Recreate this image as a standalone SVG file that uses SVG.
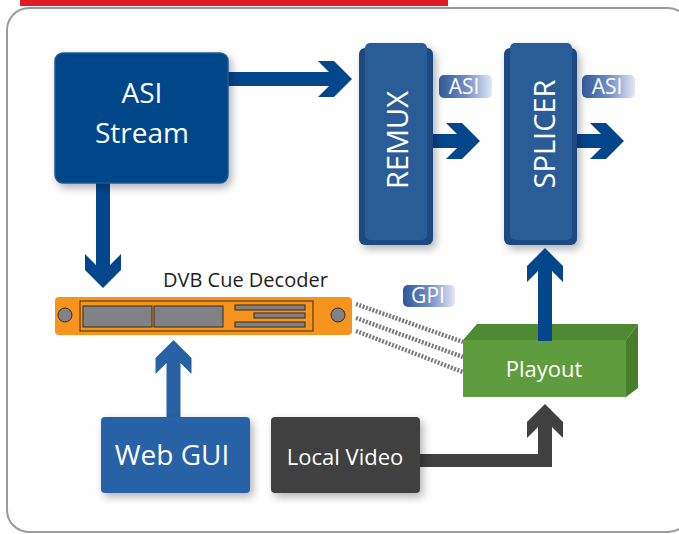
<svg xmlns="http://www.w3.org/2000/svg" width="679" height="534" viewBox="0 0 679 534">
<defs>
<style>
text{font-family:"Open Sans","Noto Sans","DejaVu Sans",sans-serif;fill:#fff}
.lbl{fill:#231f20}
.blue{fill:#03468c}
.tag{fill:url(#tagGrad)}
.gray{fill:#808285;stroke:#3a2a18;stroke-width:1}
.gpi{fill:none;stroke:#7b7b7d;stroke-width:4.5;stroke-dasharray:2 1.5}
</style>
<linearGradient id="tagGrad" x1="0" y1="0" x2="1" y2="0">
<stop offset="0" stop-color="#2f5898"/>
<stop offset="0.5" stop-color="#6f8cc2"/>
<stop offset="1" stop-color="#e2e8f3"/>
</linearGradient>
<filter id="sh" x="-20%" y="-20%" width="150%" height="150%">
<feDropShadow dx="3" dy="4" stdDeviation="4" flood-color="#000" flood-opacity="0.3"/>
</filter>
</defs>
<rect x="0" y="0" width="679" height="534" fill="#fff"/>
<rect x="20" y="0" width="428" height="6" fill="#e01b24"/>
<rect x="7" y="8" width="683" height="524" rx="22" fill="#fff" stroke="#9a9a9c" stroke-width="2"/>

<g id="connectors">
<path class="blue" d="M226,72 H329 L318,61 H334 L352,79 L334,97 H318 L329,86 H226 Z"/>
<path class="blue" d="M425,134 H457 L446,123 H462 L480,141 L462,159 H446 L457,148 H425 Z"/>
<path class="blue" d="M570,134 H601 L590,123 H606 L624,141 L606,159 H590 L601,148 H570 Z"/>
<path class="blue" d="M96,181 V265 L85,254 V270 L103,288 L121,270 V254 L110,265 V181 Z"/>
<path fill="#2862a5" d="M166.5,419 V363 L155.5,374 V358 L173.5,340 L191.5,358 V374 L180.5,363 V419 Z"/>
<path fill="#404040" d="M418,454 H538 V427 L527,438 V422 L545,404 L563,422 V438 L552,427 V467 H418 Z"/>
<line class="gpi" x1="356" y1="304" x2="463" y2="342"/>
<line class="gpi" x1="356" y1="318" x2="463" y2="357"/>
<line class="gpi" x1="356" y1="331" x2="463" y2="372"/>
</g>

<g id="asi-stream">
<rect x="55" y="53" width="173" height="130" rx="8" fill="#02468a" stroke="#1b5899" stroke-width="1.5" filter="url(#sh)"/>
<text x="142" y="103" font-size="28" text-anchor="middle">ASI</text>
<text x="142" y="143" font-size="28" text-anchor="middle">Stream</text>
</g>

<g id="remux">
<g filter="url(#sh)">
<rect x="359" y="48" width="74" height="197" rx="6" fill="#1d4a80"/>
<rect x="365" y="43" width="62" height="197" rx="5" fill="#2a5c98"/>
</g>
<text transform="translate(408,140) rotate(-90)" font-size="29" text-anchor="middle">REMUX</text>
</g>

<g id="splicer">
<g filter="url(#sh)">
<rect x="504" y="48" width="73" height="197" rx="6" fill="#1d4a80"/>
<rect x="510" y="43" width="62" height="197" rx="5" fill="#2a5c98"/>
</g>
<text transform="translate(555,134) rotate(-90)" font-size="29" text-anchor="middle">SPLICER</text>
</g>

<g id="asi-tag-1">
<rect class="tag" x="439" y="75" width="53" height="23" rx="5"/>
<text x="464" y="94" font-size="21" text-anchor="middle">ASI</text>
</g>
<g id="asi-tag-2">
<rect class="tag" x="582" y="75" width="53" height="23" rx="5"/>
<text x="607" y="94" font-size="21" text-anchor="middle">ASI</text>
</g>

<g id="dvb-cue-decoder">
<text class="lbl" x="163" y="287" font-size="20">DVB Cue Decoder</text>
<rect x="55" y="297" width="297" height="38" rx="4" fill="#f7941d"/>
<rect x="80" y="301" width="233" height="30" fill="none" stroke="#3a2a18" stroke-width="1"/>
<rect class="gray" x="83" y="306" width="69" height="21"/>
<rect class="gray" x="154" y="306" width="69" height="21"/>
<rect class="gray" x="235" y="305" width="70" height="5"/>
<rect class="gray" x="254" y="313" width="51" height="5"/>
<rect class="gray" x="235" y="322" width="70" height="5"/>
<circle class="gray" cx="65" cy="315" r="7"/>
<circle class="gray" cx="338" cy="315" r="7"/>
</g>

<g id="gpi-tag">
<rect class="tag" x="403" y="285" width="52" height="22" rx="5"/>
<text x="428" y="303" font-size="21" text-anchor="middle">GPI</text>
</g>

<g id="playout">
<polygon points="463,340 477,324 638,324 626,340" fill="#4e8a31"/>
<polygon points="626,340 638,324 638,388 626,397" fill="#487d2c"/>
<rect x="463" y="340" width="163" height="57" fill="#5f9c3d"/>
<text x="544" y="377" font-size="22" text-anchor="middle">Playout</text>
</g>
<path class="blue" d="M538,341 V271 L527,282 V266 L545,248 L563,266 V282 L552,271 V341 Z"/>

<g id="web-gui">
<rect x="101" y="417" width="149" height="76" rx="4" fill="#2862a5" filter="url(#sh)"/>
<text x="172" y="465" font-size="28" text-anchor="middle">Web GUI</text>
</g>

<g id="local-video">
<rect x="271" y="417" width="149" height="76" rx="4" fill="#404040" filter="url(#sh)"/>
<text x="345" y="465" font-size="22" text-anchor="middle">Local Video</text>
</g>
</svg>
